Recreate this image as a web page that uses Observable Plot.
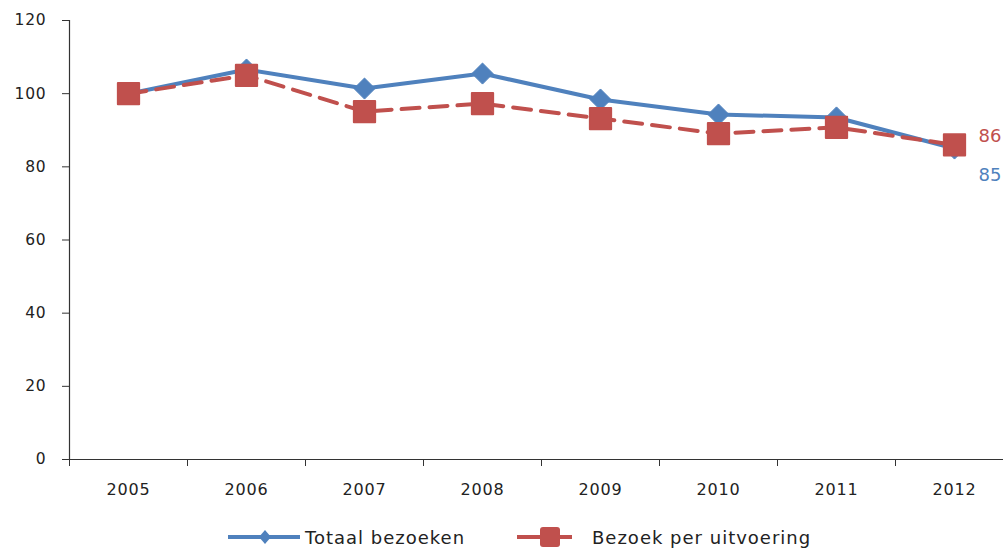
<!DOCTYPE html>
<html>
<head>
<meta charset="utf-8">
<script src="https://cdn.jsdelivr.net/npm/d3@7"></script>
<script src="https://cdn.jsdelivr.net/npm/@observablehq/plot@0.6"></script>
<style>
  html, body { margin: 0; padding: 0; background: #fff; }
  body { width: 1003px; height: 549px; overflow: hidden; font-family: "DejaVu Sans", sans-serif; }
  #chart svg { display: block; }
  #chart svg g[aria-label="y-axis tick label"] text,
  #chart svg g[aria-label="x-axis tick label"] text { letter-spacing: 0.8px; }
  #legend { position: relative; height: 34px; font-size: 18px; color: #222; letter-spacing: 1px; }
  .item { position: absolute; top: 11px; display: flex; align-items: center; }
  .item svg { display: block; }
</style>
</head>
<body>
<div id="chart"></div>
<div id="legend"></div>
<script>
const years = [2005, 2006, 2007, 2008, 2009, 2010, 2011, 2012];
const totaalBezoeken = [100, 106.6, 101.4, 105.5, 98.4, 94.3, 93.5, 85];
const bezoekPerUitvoering = [100, 105, 95.1, 97.3, 93.2, 89.1, 90.8, 86];
const seriesNames = ["Totaal bezoeken", "Bezoek per uitvoering"];
const yTicks = [0, 20, 40, 60, 80, 100, 120];
const endLabels = ["85", "86"];

const blue = "#4F81BD", red = "#C0504D";
const totaal = years.map((y, i) => ({year: y, value: totaalBezoeken[i]}));
const perUit = years.map((y, i) => ({year: y, value: bezoekPerUitvoering[i]}));
const bounds = d3.range(years.length + 1).map(i => years[0] - 0.5 + i);
const last = years.length - 1;

const chart = Plot.plot({
  width: 1003,
  height: 515,
  marginLeft: 69,
  marginRight: 0,
  marginTop: 20,
  marginBottom: 56,
  x: {domain: [years[0] - 0.5, years[last] + 0.5], range: [69, 1013], label: null},
  y: {domain: [0, 120], range: [459, 20], label: null},
  style: {fontFamily: "'DejaVu Sans', sans-serif", color: "#222"},
  marks: [
    Plot.axisY({ticks: yTicks, tickSize: 7, tickPadding: 16, fontSize: 15.5, tickFormat: d => String(d), stroke: "#333", label: null}),
    Plot.axisX({ticks: years, tickSize: 0, tickPadding: 24, fontSize: 16, tickFormat: d => String(d), label: null}),
    Plot.axisX({ticks: bounds, tickSize: 7, tickFormat: () => "", stroke: "#333", label: null}),
    Plot.ruleX([years[0] - 0.5], {stroke: "#333", strokeWidth: 1.2}),
    Plot.ruleY([0], {stroke: "#333", strokeWidth: 1.2}),
    Plot.line(totaal, {x: "year", y: "value", stroke: blue, strokeWidth: 4}),
    Plot.dot(totaal, {x: "year", y: "value", symbol: "diamond2", r: 9.5, fill: blue, stroke: blue, strokeWidth: 1}),
    Plot.line(perUit, {x: "year", y: "value", stroke: red, strokeWidth: 4, strokeDasharray: "18,10"}),
    Plot.dot(perUit, {x: "year", y: "value", symbol: "square", r: 12, fill: red, stroke: red, strokeWidth: 2, strokeLinejoin: "round"}),
    Plot.text([perUit[last]], {x: "year", y: "value", text: () => endLabels[1], dx: 24, dy: -9, textAnchor: "start", fill: red, fontSize: 18}),
    Plot.text([totaal[last]], {x: "year", y: "value", text: () => endLabels[0], dx: 24, dy: 27, textAnchor: "start", fill: blue, fontSize: 18})
  ]
});
document.getElementById("chart").appendChild(chart);

const legend = document.getElementById("legend");
const items = [
  {name: seriesNames[0], color: blue, left: 228, marker: "diamond", gap: 5},
  {name: seriesNames[1], color: red, left: 517, marker: "square", gap: 20}
];
items.forEach(it => {
  const div = document.createElement("div");
  div.className = "item";
  div.style.left = it.left + "px";
  let svg;
  if (it.marker === "diamond") {
    svg = `<svg width="72" height="22">`;
    svg += `<line x1="0" y1="11" x2="72" y2="11" stroke="${it.color}" stroke-width="4"/>`;
    svg += `<path d="M37,4 L43,11 L37,18 L31,11 Z" fill="${it.color}"/>`;
  } else {
    svg = `<svg width="55" height="22">`;
    svg += `<line x1="0" y1="11" x2="55" y2="11" stroke="${it.color}" stroke-width="4"/>`;
    svg += `<rect x="23" y="1" width="20" height="20" rx="3" fill="${it.color}"/>`;
  }
  svg += `</svg>`;
  div.innerHTML = svg + `<span style="margin-left:${it.gap}px">${it.name}</span>`;
  legend.appendChild(div);
});
</script>
</body>
</html>
